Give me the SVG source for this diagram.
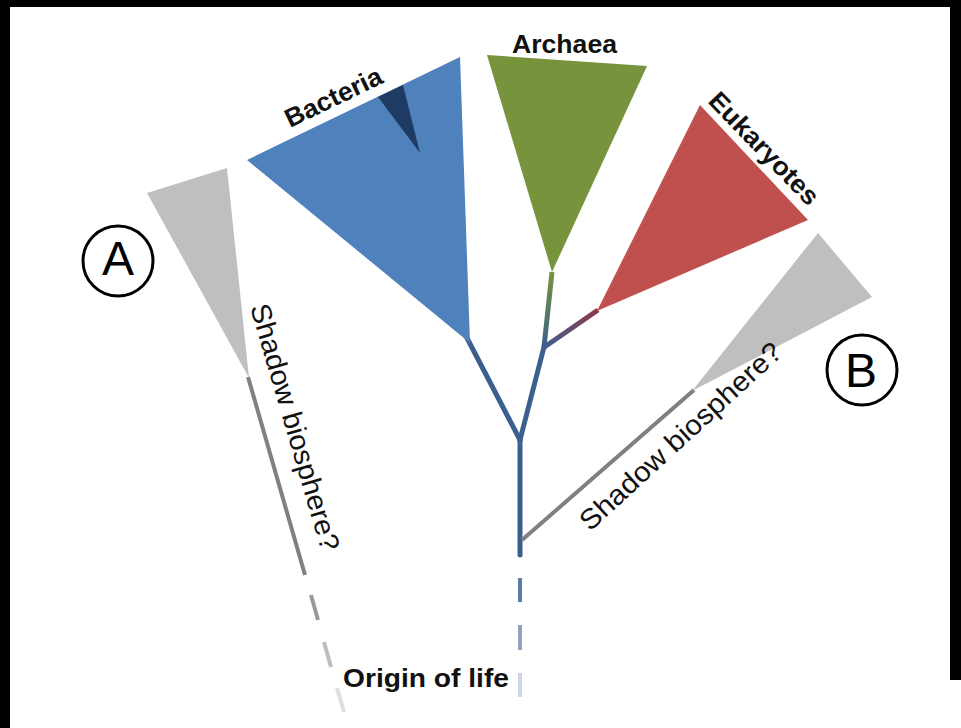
<svg xmlns="http://www.w3.org/2000/svg" width="961" height="728" viewBox="0 0 961 728">
<defs>
<linearGradient id="gArch" x1="0" y1="1" x2="0" y2="0"><stop offset="0" stop-color="#3b5f8f"/><stop offset="1" stop-color="#77933c"/></linearGradient>
<linearGradient id="gEuk" gradientUnits="userSpaceOnUse" x1="543" y1="348" x2="598" y2="310"><stop offset="0" stop-color="#3b5f8f"/><stop offset="1" stop-color="#8e3a4a"/></linearGradient>
<style>
.lbl{font-family:"Liberation Sans",Arial,sans-serif;fill:#111}
.b{font-weight:bold;font-size:26px}
.sh{font-size:28px}
.tree{stroke:#3b5f8f;stroke-width:5;fill:none;stroke-linecap:round;stroke-linejoin:round}
.gl{stroke:#808080;stroke-width:4;fill:none}
.circ{fill:none;stroke:#000;stroke-width:3}
.let{font-family:"Liberation Sans",Arial,sans-serif;font-size:48px;text-anchor:middle;fill:#000}
</style>
</defs>
<rect width="961" height="728" fill="#fff"/>
<rect x="0" y="0" width="961" height="7" fill="#000"/>
<rect x="0" y="0" width="10" height="728" fill="#000"/>
<rect x="950" y="0" width="11" height="680" fill="#000"/>
<g id="connectors">
<line class="tree" x1="467" y1="338" x2="520" y2="440"/>
<line class="tree" x1="520" y1="440" x2="544" y2="347"/>
<line class="tree" x1="520" y1="440" x2="520" y2="555"/>
<line x1="544" y1="347" x2="552" y2="272" stroke="url(#gArch)" stroke-width="5"/>
<line x1="543" y1="348" x2="598" y2="310" stroke="url(#gEuk)" stroke-width="5"/>
<line class="gl" x1="522" y1="540" x2="694" y2="390"/>
<line class="gl" x1="248" y1="377" x2="305" y2="575"/>
<line x1="520" y1="578" x2="520" y2="602" stroke="#5a7aa0" stroke-width="4"/>
<line x1="520" y1="625" x2="520" y2="650" stroke="#8fa3bd" stroke-width="4"/>
<line x1="520" y1="673" x2="520" y2="697" stroke="#cdd6e2" stroke-width="4"/>
<line x1="311" y1="595" x2="318" y2="620" stroke="#9a9a9a" stroke-width="4"/>
<line x1="324" y1="642" x2="331" y2="667" stroke="#bdbdbd" stroke-width="4"/>
<line x1="337" y1="688" x2="344" y2="712" stroke="#dedede" stroke-width="4"/>
</g>
<g id="bacteria">
<polygon points="247,160 460,57 470,343" fill="#4f81bd"/>
<polygon points="378,97 403,85 420,153" fill="#1f3a63"/>
<text class="lbl b" transform="translate(290,128) rotate(-25.8)" textLength="105" lengthAdjust="spacingAndGlyphs">Bacteria</text>
</g>
<g id="archaea">
<polygon points="487,55 647,66 552,272" fill="#77933c"/>
<text class="lbl b" x="512" y="53" textLength="105" lengthAdjust="spacingAndGlyphs">Archaea</text>
</g>
<g id="eukaryotes">
<polygon points="700,105 808,220 597,311" fill="#c0504d"/>
<text class="lbl b" transform="translate(707,102) rotate(46)" textLength="146" lengthAdjust="spacingAndGlyphs">Eukaryotes</text>
</g>
<g id="shadowA">
<polygon points="147,193 227,168 249,378" fill="#bfbfbf"/>
<text class="lbl sh" transform="translate(250,307) rotate(73.7)" textLength="256" lengthAdjust="spacingAndGlyphs">Shadow biosphere?</text>
<circle class="circ" cx="118" cy="261" r="35"/>
<text class="let" x="118" y="275">A</text>
</g>
<g id="shadowB">
<polygon points="692,391 818,233 872,297" fill="#bfbfbf"/>
<text class="lbl sh" transform="translate(590,532) rotate(-42.5)" textLength="263" lengthAdjust="spacingAndGlyphs">Shadow biosphere?</text>
<circle class="circ" cx="862" cy="370" r="35"/>
<text class="let" x="861" y="387">B</text>
</g>
<g id="origin">
<text class="lbl b" x="343" y="687" textLength="166" lengthAdjust="spacingAndGlyphs" style="font-size:25px">Origin of life</text>
</g>
</svg>
